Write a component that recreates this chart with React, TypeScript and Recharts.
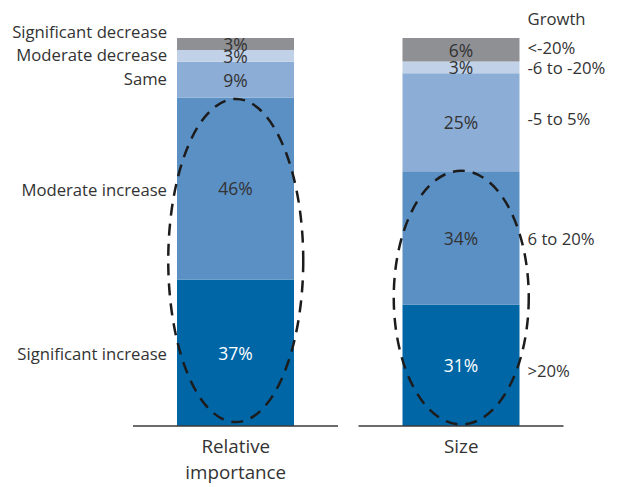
import React from 'react';
import { BarChart, Bar, XAxis, YAxis, LabelList, ReferenceArea, Text } from 'recharts';

// Survey categories and shares (%) per answer
const categories = ['Relative importance', 'Size'];
const significantIncrease = [37, 31];
const moderateIncrease = [46, 34];
const same = [9, 25];
const moderateDecrease = [3, 3];
const significantDecrease = [3, 6];

// Side labels: importance answers (left bar) and growth buckets (right bar), bottom to top
const importanceLabels = ['Significant increase', 'Moderate increase', 'Same', 'Moderate decrease', 'Significant decrease'];
const growthLabels = ['>20%', '6 to 20%', '-5 to 5%', '-6 to -20%', '<-20%'];
const growthTitle = 'Growth';

// Highlighted ranges (share of each bar, 0..1)
const highlightCategories = ['Relative importance', 'Size'];
const highlightFrom = [0.01, 0.004];
const highlightTo = [0.843, 0.658];

const seriesKeys = ['sigInc', 'modInc', 'same', 'modDec', 'sigDec'];
const seriesValues = [significantIncrease, moderateIncrease, same, moderateDecrease, significantDecrease];
const seriesColors = ['#0066a6', '#5b90c5', '#8cadd6', '#c0d1e8', '#8f9094'];

const data = categories.map((name, i) => {
  const row: Record<string, string | number> = { name };
  seriesKeys.forEach((k, s) => {
    row[k] = seriesValues[s][i];
  });
  return row;
});

const FONT = '"Open Sans", sans-serif';
const TEXT = '#333333';
const FS = 16.7;
const VALUE_FS = 17.5;

// vertical nudges for side labels
const importanceNudge = [1, 1, -1, -1, -12];
const growthNudge = [5, 1, -4, 0, -2];

const makeLabel = (s: number) => (props: any) => {
  const { x, y, width, height, value, index } = props;
  const cx = x + width / 2;
  const cy = y + height / 2;
  return (
    <g>
      <text
        x={cx}
        y={cy}
        textAnchor="middle"
        dominantBaseline="central"
        fontFamily={FONT}
        fontSize={VALUE_FS}
        fill={s === 0 ? '#ffffff' : TEXT}
      >
        {`${value}%`}
      </text>
      {index === 0 && (
        <text
          x={x - 10}
          y={cy + importanceNudge[s]}
          textAnchor="end"
          dominantBaseline="central"
          fontFamily={FONT}
          fontSize={FS}
          fill={TEXT}
        >
          {importanceLabels[s]}
        </text>
      )}
      {index === 1 && (
        <text
          x={x + width + 8}
          y={cy + growthNudge[s]}
          textAnchor="start"
          dominantBaseline="central"
          fontFamily={FONT}
          fontSize={FS}
          fill={TEXT}
        >
          {growthLabels[s]}
        </text>
      )}
      {index === 1 && s === seriesKeys.length - 1 && (
        <text
          x={x + width + 8}
          y={y - 20}
          textAnchor="start"
          dominantBaseline="central"
          fontFamily={FONT}
          fontSize={FS}
          fill={TEXT}
        >
          {growthTitle}
        </text>
      )}
    </g>
  );
};

// bottom segment also draws the baseline rule under its bar
const BaseShape = (props: any) => {
  const { x, y, width, height, fill } = props;
  const cx = x + width / 2;
  return (
    <g>
      <rect x={x} y={y} width={width} height={height} fill={fill} />
      <line x1={cx - 102.5} x2={cx + 102.5} y1={y + height} y2={y + height} stroke="#3a3a3a" strokeWidth={1.5} />
    </g>
  );
};

const EllipseShape = (props: any) => {
  const { x, y, width, height } = props;
  return (
    <ellipse
      cx={x + width / 2}
      cy={y + height / 2}
      rx={67.5}
      ry={Math.abs(height) / 2}
      fill="none"
      stroke="#1c1c1c"
      strokeWidth={2.5}
      strokeDasharray="12 8"
    />
  );
};

const CategoryTick = (props: any) => {
  const { x, y, payload } = props;
  return (
    <Text
      x={x}
      y={y}
      dy={6}
      width={110}
      textAnchor="middle"
      verticalAnchor="start"
      lineHeight={26}
      fontFamily={FONT}
      fontSize={18.8}
      fill={TEXT}
    >
      {payload.value}
    </Text>
  );
};

export default function App() {
  return (
    <div style={{ position: 'absolute', left: 0, top: 0, width: 626, height: 487, background: '#fff' }}>
      <BarChart
        width={626}
        height={487}
        data={data}
        stackOffset="expand"
        margin={{ top: 38, right: 52, bottom: 0, left: 123 }}
        barSize={117}
      >
        <XAxis dataKey="name" axisLine={false} tickLine={false} height={61} tick={<CategoryTick />} interval={0} />
        <YAxis hide domain={[0, 1]} />
        {seriesKeys.map((k, s) => (
          <Bar
            key={k}
            dataKey={k}
            stackId="a"
            fill={seriesColors[s]}
            isAnimationActive={false}
            shape={s === 0 ? <BaseShape /> : undefined}
          >
            <LabelList dataKey={k} content={makeLabel(s)} />
          </Bar>
        ))}
        {highlightCategories.map((c, i) => (
          <ReferenceArea
            key={c}
            x1={c}
            x2={c}
            y1={highlightFrom[i]}
            y2={highlightTo[i]}
            ifOverflow="visible"
            shape={<EllipseShape />}
            zIndex={1500}
          />
        ))}
      </BarChart>
    </div>
  );
}
